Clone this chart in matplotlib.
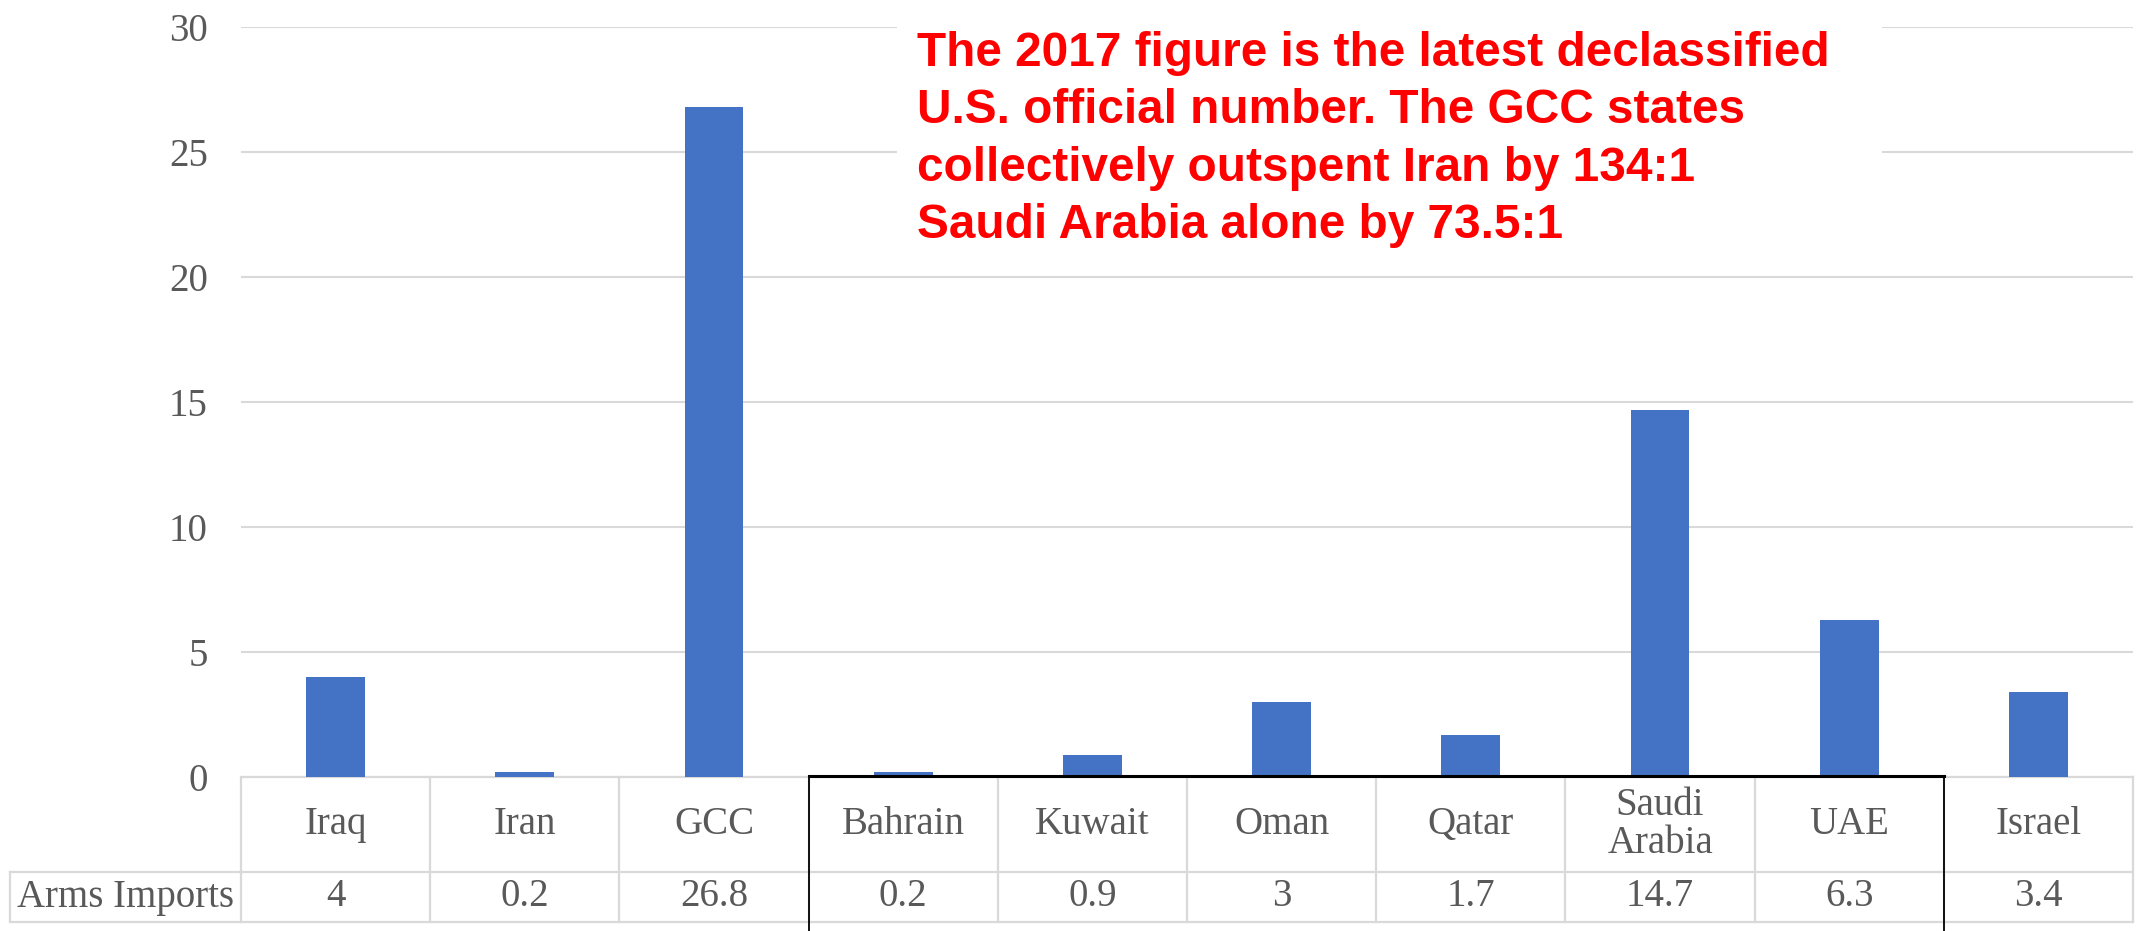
import matplotlib
matplotlib.use("Agg")
import matplotlib.pyplot as plt
import matplotlib.transforms as mtransforms
from matplotlib.patches import Rectangle

# データ
countries = ["Iraq", "Iran", "GCC", "Bahrain", "Kuwait", "Oman", "Qatar",
             "Saudi\nArabia", "UAE", "Israel"]
arms_imports = [4, 0.2, 26.8, 0.2, 0.9, 3, 1.7, 14.7, 6.3, 3.4]
value_labels = ["4", "0.2", "26.8", "0.2", "0.9", "3", "1.7", "14.7", "6.3", "3.4"]
row_label = "Arms Imports"
yticks = [0, 5, 10, 15, 20, 25, 30]
note_lines = ["The 2017 figure is the latest declassified",
              "U.S. official number. The GCC states",
              "collectively outspent Iran by 134:1",
              "Saudi Arabia alone by 73.5:1"]
gcc_members = (3, 8)  # Bahrain .. UAE

W, H = 2138, 931
fig = plt.figure(figsize=(W / 100, H / 100), dpi=100)

# ピクセル位置 -> 座標
ax_left, ax_right, ax_bottom, ax_top = 241, 2133, 777, 27
ax = fig.add_axes([ax_left / W, 1 - ax_bottom / H,
                   (ax_right - ax_left) / W, (ax_bottom - ax_top) / H])

grid_c = "#d9d9d9"
text_c = "#595959"
serif = "Liberation Serif"
fs = 28

x = list(range(len(countries)))
ax.bar(x, arms_imports, width=0.31, color="#4472C4", zorder=3)
ax.set_xlim(-0.5, len(countries) - 0.5)
ax.set_ylim(0, 30)
ax.set_yticks(yticks)
ax.set_yticklabels([str(t) for t in yticks], fontsize=fs, family=serif, color=text_c)
ax.tick_params(axis="y", length=0, pad=24)
ax.set_xticks([])
ax.grid(axis="y", color=grid_c, linewidth=1.5, zorder=0)
ax.set_axisbelow(True)
for s in ["top", "right", "left", "bottom"]:
    ax.spines[s].set_visible(False)

# テーブル
trans = mtransforms.blended_transform_factory(ax.transData, ax.transAxes)
col_w = (ax_right - ax_left) / len(countries)


def yf(px):
    return (ax_bottom - px) / (ax_bottom - ax_top)


def xd(px):
    return -0.5 + (px - ax_left) / col_w


y_hdr_top, y_hdr_bot, y_row_bot = yf(777), yf(872), yf(922)
x_lbl_left = xd(10)
x_end = len(countries) - 0.5

def tline(xs, ys, **kw):
    ax.plot(xs, ys, transform=trans, clip_on=False, **kw)

lw = dict(color=grid_c, linewidth=1.6, zorder=2)
tline([-0.5, x_end], [y_hdr_top, y_hdr_top], **lw)
tline([x_lbl_left, x_end], [y_hdr_bot, y_hdr_bot], **lw)
tline([x_lbl_left, x_end], [y_row_bot, y_row_bot], **lw)
tline([x_lbl_left, x_lbl_left], [y_hdr_bot, y_row_bot], **lw)
for i in range(len(countries) + 1):
    tline([i - 0.5, i - 0.5], [y_hdr_top, y_row_bot], **lw)

for i, (c, v) in enumerate(zip(countries, value_labels)):
    ax.text(i, (y_hdr_top + y_hdr_bot) / 2, c, transform=trans, ha="center",
            va="center", fontsize=fs, family=serif, color=text_c,
            linespacing=1.05)
    ax.text(i, (y_hdr_bot + y_row_bot) / 2, v, transform=trans, ha="center",
            va="center", fontsize=fs, family=serif, color=text_c)
ax.text((x_lbl_left - 0.5) / 2, (y_hdr_bot + y_row_bot) / 2, row_label,
        transform=trans, ha="center", va="center", fontsize=fs, family=serif,
        color=text_c)

# GCC 枠
g0, g1 = gcc_members[0] - 0.5, gcc_members[1] + 0.5
tline([g0, g1], [yf(776), yf(776)], color="black", linewidth=2.2, zorder=5)
tline([g0, g0], [yf(776), yf(940)], color="black", linewidth=1.3, zorder=5)
tline([g1, g1], [yf(776), yf(940)], color="black", linewidth=1.3, zorder=5)

# 注記
fig.patches.append(Rectangle((897 / W, 1 - 250 / H), 985 / W, 245 / H,
                             transform=fig.transFigure, facecolor="white",
                             edgecolor="none", zorder=1))
for k, line in enumerate(note_lines):
    fig.text(917 / W, 1 - (66 + 57.3 * k) / H, line, ha="left", va="baseline",
             fontsize=34.4, fontweight="bold", family="Liberation Sans",
             color="#ff0000", zorder=6)

fig.savefig("out.png", dpi=100)
